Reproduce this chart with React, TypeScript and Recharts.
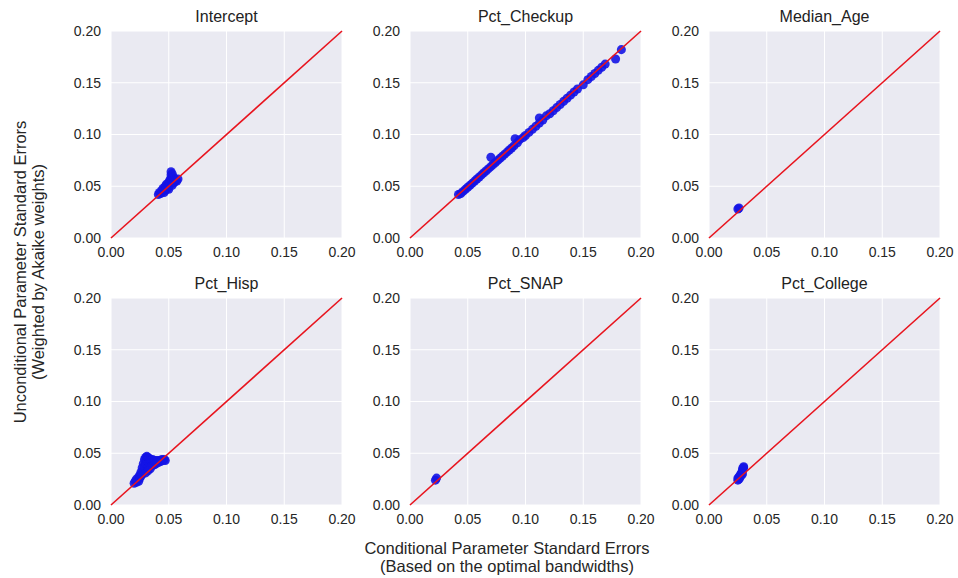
import React from "react";
import {
  ScatterChart,
  Scatter,
  XAxis,
  YAxis,
  ZAxis,
  CartesianGrid,
} from "recharts";

const ticks = [0, 0.05, 0.1, 0.15, 0.2];
const diagonal = [
  { x: 0, y: 0 },
  { x: 0.2, y: 0.2 },
];

const interceptPts: [number, number][] = [
  [0.041, 0.042], [0.042, 0.044], [0.043, 0.043], [0.044, 0.046], [0.045, 0.045],
  [0.045, 0.048], [0.046, 0.047], [0.047, 0.05], [0.047, 0.046], [0.048, 0.049],
  [0.048, 0.052], [0.049, 0.051], [0.049, 0.048], [0.05, 0.054], [0.05, 0.05],
  [0.051, 0.056], [0.051, 0.052], [0.052, 0.058], [0.052, 0.061], [0.052, 0.064],
  [0.053, 0.062], [0.053, 0.055], [0.054, 0.059], [0.054, 0.053], [0.055, 0.057],
  [0.055, 0.054], [0.056, 0.056], [0.057, 0.055], [0.058, 0.057], [0.046, 0.044],
  [0.05, 0.047], [0.053, 0.051],
];

const checkupPts: [number, number][] = [
  [0.042, 0.042], [0.044, 0.043], [0.046, 0.045], [0.048, 0.047], [0.05, 0.049],
  [0.052, 0.051], [0.054, 0.053], [0.056, 0.055], [0.058, 0.057], [0.06, 0.059],
  [0.062, 0.061], [0.064, 0.063], [0.066, 0.065], [0.068, 0.067], [0.07, 0.078],
  [0.07, 0.069], [0.072, 0.071], [0.074, 0.073], [0.076, 0.075], [0.078, 0.077],
  [0.08, 0.079], [0.082, 0.081], [0.084, 0.083], [0.086, 0.085], [0.088, 0.087],
  [0.09, 0.089], [0.091, 0.096], [0.093, 0.092], [0.095, 0.095], [0.098, 0.097],
  [0.1, 0.099], [0.103, 0.102], [0.106, 0.105], [0.109, 0.108], [0.112, 0.116],
  [0.112, 0.111], [0.115, 0.114], [0.118, 0.118], [0.121, 0.12], [0.124, 0.123],
  [0.127, 0.126], [0.13, 0.129], [0.133, 0.132], [0.136, 0.135], [0.139, 0.138],
  [0.142, 0.141], [0.145, 0.144], [0.15, 0.148], [0.154, 0.153], [0.157, 0.156],
  [0.16, 0.159], [0.163, 0.162], [0.166, 0.165], [0.169, 0.168], [0.178, 0.173],
  [0.183, 0.182],
];

const medianAgePts: [number, number][] = [
  [0.026, 0.029], [0.025, 0.028],
];

const hispPts: [number, number][] = [
  [0.02, 0.021], [0.021, 0.023], [0.022, 0.022], [0.022, 0.025], [0.023, 0.024],
  [0.024, 0.027], [0.024, 0.023], [0.025, 0.029], [0.025, 0.026], [0.026, 0.032],
  [0.026, 0.028], [0.027, 0.036], [0.027, 0.03], [0.028, 0.04], [0.028, 0.033],
  [0.029, 0.044], [0.029, 0.037], [0.03, 0.046], [0.03, 0.04], [0.03, 0.031],
  [0.031, 0.047], [0.031, 0.043], [0.032, 0.046], [0.032, 0.036], [0.033, 0.045],
  [0.033, 0.041], [0.034, 0.044], [0.034, 0.035], [0.035, 0.043], [0.036, 0.044],
  [0.036, 0.038], [0.037, 0.042], [0.038, 0.043], [0.039, 0.04], [0.04, 0.043],
  [0.041, 0.041], [0.042, 0.043], [0.043, 0.042], [0.044, 0.044], [0.045, 0.043],
  [0.046, 0.044], [0.047, 0.043], [0.032, 0.033], [0.038, 0.039],
];

const snapPts: [number, number][] = [
  [0.022, 0.024], [0.023, 0.026],
];

const collegePts: [number, number][] = [
  [0.025, 0.024], [0.025, 0.026], [0.026, 0.027], [0.026, 0.025], [0.027, 0.029],
  [0.027, 0.027], [0.028, 0.031], [0.028, 0.029], [0.029, 0.033], [0.029, 0.035],
  [0.03, 0.036], [0.03, 0.037], [0.029, 0.03],
];

const panels = [
  { title: "Intercept", pts: interceptPts, col: 0, row: 0 },
  { title: "Pct_Checkup", pts: checkupPts, col: 1, row: 0 },
  { title: "Median_Age", pts: medianAgePts, col: 2, row: 0 },
  { title: "Pct_Hisp", pts: hispPts, col: 0, row: 1 },
  { title: "Pct_SNAP", pts: snapPts, col: 1, row: 1 },
  { title: "Pct_College", pts: collegePts, col: 2, row: 1 },
];

const font = "'Liberation Sans', Arial, sans-serif";
const colLeft = [111, 410, 709];
const rowTop = [31, 298];
const plotW = 231;
const plotH = 207;
const yAxisW = 44;
const rightPad = 18;

function Panel({ title, pts, left, top }: { title: string; pts: [number, number][]; left: number; top: number }) {
  const data = pts.map(([x, y]) => ({ x, y }));
  return (
    <>
      <div
        style={{
          position: "absolute",
          left,
          top: top - 23,
          width: plotW,
          textAlign: "center",
          fontFamily: font,
          fontSize: 16,
          color: "#222",
        }}
      >
        {title}
      </div>
      <div style={{ position: "absolute", left: left - yAxisW, top: top - 10 }}>
        <ScatterChart
          width={yAxisW + plotW + rightPad}
          height={plotH + 10 + 26}
          margin={{ top: 10, right: rightPad, bottom: 0, left: 0 }}
        >
          <CartesianGrid fill="#EAEAF2" stroke="#ffffff" strokeWidth={1} />
          <XAxis
            type="number"
            dataKey="x"
            domain={[0, 0.2]}
            ticks={ticks}
            tickFormatter={(v: number) => v.toFixed(2)}
            axisLine={false}
            tickLine={false}
            height={26}
            tick={{ fontSize: 14, fill: "#262626", fontFamily: font }}
            tickMargin={3}
            interval={0}
          />
          <YAxis
            type="number"
            dataKey="y"
            domain={[0, 0.2]}
            ticks={ticks}
            tickFormatter={(v: number) => v.toFixed(2)}
            axisLine={false}
            tickLine={false}
            width={yAxisW}
            tick={{ fontSize: 14, fill: "#262626", fontFamily: font }}
            tickMargin={4}
            interval={0}
          />
          <ZAxis range={[24, 24]} />
          <Scatter data={data} fill="#1414E6" fillOpacity={0.9} isAnimationActive={false} />
          <Scatter
            data={diagonal}
            line={{ stroke: "#E8141E", strokeWidth: 1.6 }}
            shape={() => <g />}
            isAnimationActive={false}
          />
        </ScatterChart>
      </div>
    </>
  );
}

export default function App() {
  return (
    <div
      style={{
        position: "absolute",
        left: 0,
        top: 0,
        width: 958,
        height: 578,
        background: "#ffffff",
        overflow: "hidden",
      }}
    >
      {panels.map((p) => (
        <Panel key={p.title} title={p.title} pts={p.pts} left={colLeft[p.col]} top={rowTop[p.row]} />
      ))}
      <div
        style={{
          position: "absolute",
          left: 29,
          top: 272,
          transform: "translate(-50%, -50%) rotate(-90deg)",
          whiteSpace: "nowrap",
          textAlign: "center",
          fontFamily: font,
          fontSize: 16.5,
          lineHeight: "18px",
          color: "#262626",
        }}
      >
        Unconditional Parameter Standard Errors
        <br />
        (Weighted by Akaike weights)
      </div>
      <div
        style={{
          position: "absolute",
          left: 507,
          top: 557,
          transform: "translate(-50%, -50%)",
          whiteSpace: "nowrap",
          textAlign: "center",
          fontFamily: font,
          fontSize: 16.5,
          lineHeight: "18px",
          color: "#262626",
        }}
      >
        Conditional Parameter Standard Errors
        <br />
        (Based on the optimal bandwidths)
      </div>
    </div>
  );
}
